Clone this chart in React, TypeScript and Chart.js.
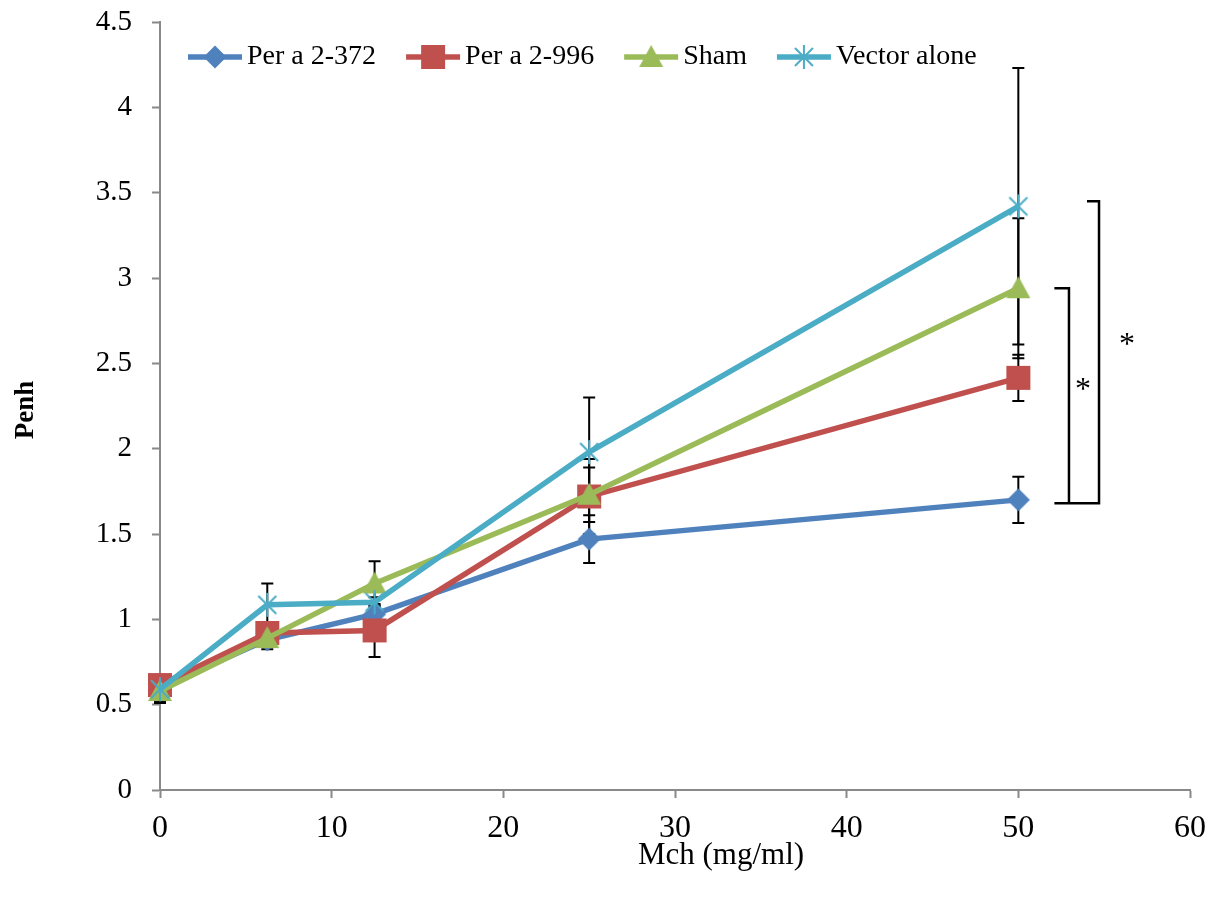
import React, { useEffect, useRef } from 'react';
import { Chart, registerables } from 'chart.js';

Chart.register(...registerables);

// Methacholine doses (mg/ml)
const doses = [0, 6.25, 12.5, 25, 50];

// Penh means and error values per group
const seriesNames = ['Per a 2-372', 'Per a 2-996', 'Sham', 'Vector alone'];
const perA372 = [0.6, 0.88, 1.03, 1.47, 1.7];
const perA372Err = [0.07, 0.04, 0.05, 0.14, 0.135];
const perA996 = [0.615, 0.92, 0.935, 1.72, 2.415];
const perA996Err = [0.05, 0.05, 0.155, 0.22, 0.135];
const sham = [0.58, 0.89, 1.21, 1.73, 2.94];
const shamErr = [0.06, 0.065, 0.13, 0.16, 0.41];
const vectorAlone = [0.59, 1.085, 1.1, 1.98, 3.42];
const vectorAloneErr = [0.08, 0.125, 0.03, 0.32, 0.81];

// Axis ranges / tick steps
const xRange = [0, 60];
const xStep = 10;
const yRange = [0, 4.5];
const yStep = 0.5;

// Significance brackets at the top dose: [upper value, lower value]
const bracketInner = [2.94, 1.68];
const bracketOuter = [3.45, 1.68];
const significanceMark = '*';

const colors = ['#4F81BD', '#C0504D', '#9BBB59', '#4BACC6'];
const markerKinds = ['diamond', 'square', 'triangle', 'star'];

function makeMarker(kind: string, color: string): HTMLCanvasElement {
  const c = document.createElement('canvas');
  c.width = 32;
  c.height = 32;
  const g = c.getContext('2d')!;
  const cx = 16;
  const cy = 16;
  g.fillStyle = color;
  g.strokeStyle = color;
  if (kind === 'diamond') {
    g.beginPath();
    g.moveTo(cx, cy - 11.5);
    g.lineTo(cx + 11.5, cy);
    g.lineTo(cx, cy + 11.5);
    g.lineTo(cx - 11.5, cy);
    g.closePath();
    g.fill();
  } else if (kind === 'square') {
    g.fillRect(cx - 12, cy - 12, 24, 24);
  } else if (kind === 'triangle') {
    g.beginPath();
    g.moveTo(cx, cy - 12);
    g.lineTo(cx + 12, cy + 10);
    g.lineTo(cx - 12, cy + 10);
    g.closePath();
    g.fill();
  } else {
    g.lineWidth = 2;
    g.beginPath();
    g.moveTo(cx - 9, cy - 9);
    g.lineTo(cx + 9, cy + 9);
    g.moveTo(cx + 9, cy - 9);
    g.lineTo(cx - 9, cy + 9);
    g.moveTo(cx, cy - 12);
    g.lineTo(cx, cy + 12);
    g.stroke();
  }
  return c;
}

export default function App() {
  const ref = useRef<HTMLCanvasElement | null>(null);

  useEffect(() => {
    if (!ref.current) return;
    const values = [perA372, perA996, sham, vectorAlone];
    const errors = [perA372Err, perA996Err, shamErr, vectorAloneErr];
    const markers = markerKinds.map((k, i) => makeMarker(k, colors[i]));

    const serif = "'Liberation Serif', 'Times New Roman', serif";

    const errorBars = {
      id: 'errorBars',
      beforeDatasetsDraw(chart: any) {
        const { ctx, scales } = chart;
        const xs = scales.x;
        const ys = scales.y;
        ctx.save();
        ctx.strokeStyle = '#000';
        ctx.lineWidth = 2;
        values.forEach((vals, i) => {
          vals.forEach((v, j) => {
            const e = errors[i][j];
            const px = xs.getPixelForValue(doses[j]);
            const top = ys.getPixelForValue(v + e);
            const bot = ys.getPixelForValue(v - e);
            ctx.beginPath();
            ctx.moveTo(px, top);
            ctx.lineTo(px, bot);
            ctx.moveTo(px - 6, top);
            ctx.lineTo(px + 6, top);
            ctx.moveTo(px - 6, bot);
            ctx.lineTo(px + 6, bot);
            ctx.stroke();
          });
        });
        ctx.restore();
      },
    };

    const annotations = {
      id: 'annotations',
      afterDraw(chart: any) {
        const { ctx, scales } = chart;
        const xs = scales.x;
        const ys = scales.y;
        ctx.save();

        // axis titles
        ctx.fillStyle = '#000';
        ctx.textAlign = 'center';
        ctx.textBaseline = 'middle';
        ctx.font = `31px ${serif}`;
        ctx.fillText('Mch (mg/ml)', 721, 856);
        ctx.save();
        ctx.translate(26, 410);
        ctx.rotate(-Math.PI / 2);
        ctx.font = `bold 27px ${serif}`;
        ctx.fillText('Penh', 0, 0);
        ctx.restore();

        // significance brackets
        const xLeft = xs.getPixelForValue(52.1);
        const xInner = xs.getPixelForValue(52.95);
        const xOuterArm = xs.getPixelForValue(54.0);
        const xOuter = xs.getPixelForValue(54.7);
        const innerTop = ys.getPixelForValue(bracketInner[0]);
        const innerBot = ys.getPixelForValue(bracketInner[1]);
        const outerTop = ys.getPixelForValue(bracketOuter[0]);
        const outerBot = ys.getPixelForValue(bracketOuter[1]);
        ctx.strokeStyle = '#000';
        ctx.lineWidth = 2.5;
        ctx.beginPath();
        ctx.moveTo(xLeft, innerTop);
        ctx.lineTo(xInner, innerTop);
        ctx.lineTo(xInner, innerBot);
        ctx.moveTo(xOuterArm, outerTop);
        ctx.lineTo(xOuter, outerTop);
        ctx.lineTo(xOuter, outerBot);
        ctx.lineTo(xLeft, outerBot);
        ctx.stroke();
        ctx.font = `32px ${serif}`;
        ctx.textBaseline = 'alphabetic';
        ctx.fillText(significanceMark, xInner + 14, (innerTop + innerBot) / 2 + 3);
        ctx.fillText(significanceMark, xOuter + 28, (outerTop + outerBot) / 2 + 2);

        // legend
        let lx = 188;
        const ly = 57;
        ctx.font = `28px ${serif}`;
        ctx.textAlign = 'left';
        ctx.textBaseline = 'middle';
        seriesNames.forEach((name, i) => {
          ctx.strokeStyle = colors[i];
          ctx.lineWidth = 5.5;
          ctx.beginPath();
          ctx.moveTo(lx, ly);
          ctx.lineTo(lx + 54, ly);
          ctx.stroke();
          const m = markers[i];
          ctx.drawImage(m, lx + 27 - m.width / 2, ly - m.height / 2);
          ctx.fillStyle = '#000';
          ctx.fillText(name, lx + 59, ly);
          lx += 59 + ctx.measureText(name).width + 30;
        });
        ctx.restore();
      },
    };

    const axisGray = '#898989';

    const chart = new Chart(ref.current, {
      type: 'line',
      data: {
        datasets: seriesNames.map((name, i) => ({
          label: name,
          data: doses.map((d, j) => ({ x: d, y: values[i][j] })),
          borderColor: colors[i],
          backgroundColor: colors[i],
          borderWidth: 5.5,
          pointStyle: markers[i] as any,
          pointRadius: 12,
          tension: 0,
          order: 4 - i,
          clip: false as any,
        })),
      },
      options: {
        responsive: false,
        animation: false,
        events: [],
        layout: { padding: { left: 0, top: 22, right: 35, bottom: 0 } },
        plugins: {
          legend: { display: false },
          tooltip: { enabled: false },
        },
        scales: {
          x: {
            type: 'linear',
            min: xRange[0],
            max: xRange[1],
            ticks: {
              stepSize: xStep,
              color: '#000',
              padding: 11,
              font: { family: serif, size: 32 },
              callback: (v: any) => String(v),
            },
            grid: {
              drawOnChartArea: false,
              tickLength: 8,
              tickColor: axisGray,
              tickWidth: 2,
            },
            border: { color: axisGray, width: 2 },
            afterFit(scale: any) {
              scale.height = 108;
            },
          },
          y: {
            type: 'linear',
            min: yRange[0],
            max: yRange[1],
            ticks: {
              stepSize: yStep,
              color: '#000',
              padding: 20,
              font: { family: serif, size: 29 },
              callback: (v: any) => String(v),
            },
            grid: {
              drawOnChartArea: false,
              tickLength: 8,
              tickColor: axisGray,
              tickWidth: 2,
            },
            border: { color: axisGray, width: 2 },
            afterFit(scale: any) {
              scale.width = 160;
              scale.paddingTop = 0;
              scale.paddingBottom = 0;
            },
          },
        },
      },
      plugins: [errorBars, annotations],
    });

    return () => chart.destroy();
  }, []);

  return (
    <div style={{ position: 'fixed', left: 0, top: 0, width: 1225, height: 898, background: '#fff' }}>
      <canvas ref={ref} width={1225} height={898} style={{ display: 'block' }} />
    </div>
  );
}
